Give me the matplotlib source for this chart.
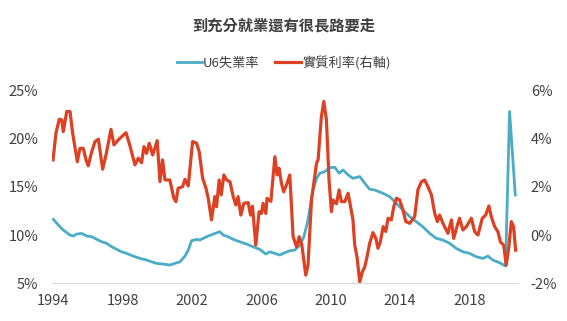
import numpy as np
import matplotlib
matplotlib.use("Agg")
import matplotlib.pyplot as plt

plt.rcParams['font.family'] = ['Noto Sans CJK TC', 'DejaVu Sans']

# U6失業率 (左軸, %)
u6_year = [1994.02, 1994.31, 1994.59, 1994.98, 1995.17, 1995.36, 1995.65, 1995.94,
           1996.23, 1996.52, 1996.80, 1997.09, 1997.38, 1997.67, 1997.95, 1998.24,
           1998.62, 1999.01, 1999.39, 1999.68, 1999.97, 2000.35, 2000.73, 2001.02,
           2001.31, 2001.60, 2001.79, 2001.98, 2002.27, 2002.46, 2002.85, 2003.23,
           2003.61, 2003.80, 2004.09, 2004.38, 2004.76, 2005.15, 2005.53, 2005.91,
           2006.26, 2006.49, 2006.78, 2007.06, 2007.35, 2007.64, 2007.93, 2008.22,
           2008.45, 2008.69, 2008.95, 2009.18, 2009.37, 2009.65, 2009.94, 2010.23,
           2010.48, 2010.71, 2011.00, 2011.28, 2011.67, 2011.96, 2012.24, 2012.53,
           2013.01, 2013.40, 2013.68, 2013.97, 2014.26, 2014.55, 2014.93, 2015.31,
           2015.70, 2016.08, 2016.46, 2016.85, 2017.23, 2017.61, 2018.00, 2018.39,
           2018.77, 2019.05, 2019.34, 2019.73, 2020.07, 2020.30, 2020.63]
u6_rate = [11.63, 11.04, 10.52, 10.00, 9.90, 10.10, 10.17, 9.90,
           9.83, 9.55, 9.30, 9.14, 8.78, 8.51, 8.26, 8.09,
           7.81, 7.57, 7.40, 7.22, 7.05, 6.98, 6.88, 7.05,
           7.22, 7.81, 8.44, 9.41, 9.55, 9.48, 9.83, 10.10,
           10.35, 10.00, 9.83, 9.55, 9.30, 9.06, 8.78, 8.51,
           8.02, 8.26, 8.09, 7.92, 8.16, 8.37, 8.44, 8.96,
           9.83, 11.56, 14.51, 15.90, 16.43, 16.59, 17.01, 17.05,
           16.43, 16.77, 16.25, 15.90, 16.08, 15.39, 14.76, 14.69,
           14.34, 13.99, 13.47, 12.95, 12.43, 11.91, 11.39, 10.86,
           10.17, 9.66, 9.48, 9.14, 8.61, 8.26, 8.09, 7.74,
           7.57, 7.81, 7.40, 7.12, 6.77, 22.85, 14.17]

# 實質利率 (右軸, %)
real_year = [1994.00, 1994.17, 1994.36, 1994.50, 1994.59, 1994.79, 1994.98, 1995.13,
             1995.40, 1995.55, 1995.74, 1995.90, 1996.03, 1996.23, 1996.42, 1996.61,
             1996.86, 1997.05, 1997.34, 1997.51, 1997.76, 1998.20, 1998.39, 1998.72,
             1998.91, 1999.10, 1999.24, 1999.39, 1999.54, 1999.74, 2000.00, 2000.16,
             2000.31, 2000.45, 2000.73, 2000.96, 2001.08, 2001.21, 2001.46, 2001.60,
             2001.79, 2002.04, 2002.27, 2002.42, 2002.62, 2002.81, 2002.94, 2003.13,
             2003.32, 2003.42, 2003.57, 2003.69, 2003.84, 2004.00, 2004.19, 2004.38,
             2004.53, 2004.66, 2004.82, 2004.99, 2005.24, 2005.38, 2005.49, 2005.68,
             2005.87, 2006.01, 2006.10, 2006.26, 2006.33, 2006.55, 2006.78, 2006.91,
             2007.02, 2007.16, 2007.29, 2007.48, 2007.64, 2007.83, 2008.03, 2008.18,
             2008.33, 2008.56, 2008.69, 2008.89, 2009.18, 2009.27, 2009.46, 2009.60,
             2009.75, 2009.90, 2010.04, 2010.13, 2010.33, 2010.48, 2010.61, 2010.81,
             2011.00, 2011.28, 2011.38, 2011.51, 2011.67, 2011.82, 2011.96, 2012.09,
             2012.24, 2012.43, 2012.60, 2012.72, 2012.85, 2013.02, 2013.17, 2013.30,
             2013.49, 2013.63, 2013.78, 2013.97, 2014.16, 2014.32, 2014.55, 2014.83,
             2015.02, 2015.22, 2015.41, 2015.60, 2015.80, 2015.99, 2016.14, 2016.27,
             2016.46, 2016.75, 2016.95, 2017.08, 2017.27, 2017.42, 2017.61, 2017.81,
             2018.10, 2018.29, 2018.48, 2018.73, 2018.92, 2019.11, 2019.25, 2019.44,
             2019.63, 2019.77, 2019.96, 2020.11, 2020.26, 2020.40, 2020.53, 2020.65]
real_rate = [3.13, 4.25, 4.82, 4.79, 4.30, 5.14, 5.14, 4.24,
             3.05, 3.61, 3.61, 3.13, 2.88, 3.47, 3.89, 3.99,
             2.74, 3.33, 4.40, 3.75, 3.96, 4.26, 3.82, 2.92,
             3.20, 3.01, 3.68, 3.40, 3.82, 3.33, 3.93, 2.22,
             3.13, 2.29, 2.29, 1.53, 1.39, 1.95, 2.01, 2.32,
             2.04, 3.89, 3.82, 3.47, 2.36, 1.95, 1.53, 0.63,
             1.60, 1.18, 2.29, 1.67, 2.50, 2.29, 2.22, 1.60,
             1.25, 1.60, 0.83, 1.32, 1.35, 0.83, 1.20, -0.42,
             0.97, 0.90, 1.32, 0.90, 1.53, 1.40, 3.26, 2.50,
             2.78, 2.15, 1.80, 2.15, 2.50, -0.07, -0.49, -0.07,
             -0.40, -1.67, -1.25, 1.46, 2.99, 3.13, 4.93, 5.56,
             4.79, 2.29, 0.97, 1.46, 1.30, 1.88, 1.39, 1.39,
             1.74, 0.63, -0.42, -0.90, -1.95, -1.53, -1.32, -0.90,
             -0.35, 0.10, -0.14, -0.55, -0.30, 0.35, 0.15, 0.70,
             0.63, 1.18, 1.53, 1.46, 1.04, 0.56, 0.49, 0.76,
             1.88, 2.22, 2.29, 2.01, 1.67, 0.90, 0.56, 0.83,
             0.49, 0.07, 0.63, -0.14, 0.35, 0.70, 0.21, 0.35,
             0.70, 0.14, 0.00, 0.70, 0.83, 1.21, 0.76, 0.35,
             0.14, -0.28, -0.42, -1.25, -0.49, 0.56, 0.35, -0.63]

year_ticks = [1994, 1998, 2002, 2006, 2010, 2014, 2018]
left_ticks = [5, 10, 15, 20, 25]
right_ticks = [-2, 0, 2, 4, 6]

blue = '#4bacc6'
red = '#dd4124'
txt = '#404040'

fig = plt.figure(figsize=(5.67, 3.21), dpi=100)
ax = fig.add_axes([0.092, 0.118, 0.822, 0.599])
ax2 = ax.twinx()

l1, = ax.plot(u6_year, u6_rate, color=blue, lw=2.0, label='U6失業率')
l2, = ax2.plot(real_year, real_rate, color=red, lw=2.3, label='實質利率(右軸)')

ax.set_xlim(1993.95, 2020.8)
ax.set_ylim(5, 25)
ax2.set_ylim(-2, 6)

ax.set_xticks(year_ticks)
ax.set_yticks(left_ticks)
ax.set_yticklabels([f'{v}%' for v in left_ticks])
ax2.set_yticks(right_ticks)
ax2.set_yticklabels([f'{v}%' for v in right_ticks])

for a in (ax, ax2):
    for s in a.spines.values():
        s.set_visible(False)
    a.tick_params(length=0, labelsize=10.5, colors=txt)
ax.spines['bottom'].set_visible(True)
ax.spines['bottom'].set_color('#d9d9d9')
ax.tick_params(axis='x', pad=8)
ax.tick_params(axis='y', pad=10)
ax2.tick_params(axis='y', pad=9)

fig.text(0.5, 0.92, '到充分就業還有很長路要走', ha='center', va='center',
         fontsize=11, fontweight='bold', color=txt)
fig.legend(handles=[l1, l2], loc='center', bbox_to_anchor=(0.5, 0.805), ncol=2,
           frameon=False, fontsize=9.5, handlelength=1.9, handletextpad=0.1,
           columnspacing=1.2, labelcolor=txt)

fig.savefig('out.png', dpi=100)
